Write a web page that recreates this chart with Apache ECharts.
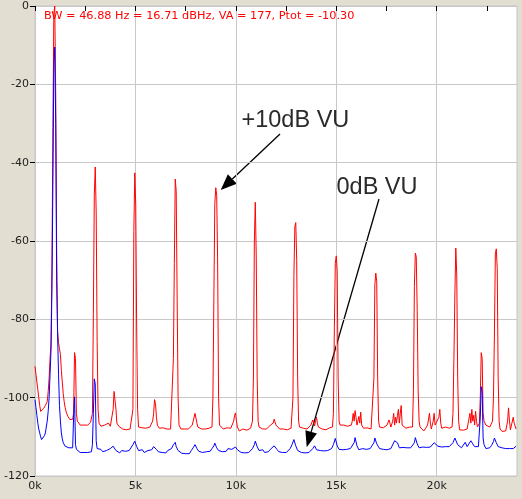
<!DOCTYPE html>
<html><head><meta charset="utf-8">
<script src="https://cdn.jsdelivr.net/npm/echarts@6/dist/echarts.min.js"></script>
<style>html,body{margin:0;padding:0;background:#e2ded2;}#c{width:522px;height:499px;}</style>
</head><body><div id="c"></div>
<script>
const xTickValues = [0,2500,5000,7500,10000,12500,15000,17500,20000,22500];
const xLabelValues = [0,5000,10000,15000,20000];
const xGridValues = [0,5000,10000,15000,20000];
const yTickValues = [-120,-100,-80,-60,-40,-20,0];
const infoText = 'BW = 46.88 Hz = 16.71 dBHz, VA = 177, Ptot = -10.30';
const label10dB = '+10dB VU';
const label0dB = '0dB VU';

// [frequency Hz, level dB]
const red = [
[0,-92],[47,-94],[94,-96],[141,-98],[188,-100],[234,-102],[281,-103.5],[328,-103.5],[375,-103],[422,-102.8],[469,-102.5],[516,-102],[562,-101.7],[609,-101],[656,-98.5],[703,-95],[750,-90],[797,-86],[844,-67],[891,-31],[938,-2],[984,0],[1031,-22.5],[1078,-62],[1125,-83],[1172,-86],[1219,-87.5],[1266,-89],[1312,-93],[1359,-96],[1406,-99],[1453,-101],[1500,-102.5],[1547,-103.5],[1594,-104.2],[1641,-104.8],[1688,-105.2],[1734,-105.6],[1781,-105.8],[1828,-106],[1875,-105.5],[1922,-104],[1969,-88.5],[2016,-90],[2062,-104],[2109,-106],
[2156,-106.5],[2250,-107],[2344,-107.3],[2438,-107],[2531,-107.5],[2625,-107],[2719,-107.3],[2766,-106.3],[2812,-106.8],[2859,-104],[2906,-78.6],[2953,-48.3],[3000,-41.1],[3047,-52.8],[3094,-85.7],[3141,-103],[3188,-106.5],
[3281,-107.3],[3375,-107.5],[3469,-107],[3562,-107.5],[3656,-106.5],[3750,-107.3],[3844,-106.8],[3891,-103],[3938,-98.4],[3984,-98.4],[4031,-103],[4078,-106.5],[4172,-107.3],[4266,-107.5],[4359,-108],[4453,-107.8],[4547,-108.2],[4641,-108.3],[4734,-108],[4828,-108.3],[4875,-103],[4922,-57.6],[4969,-42.6],[5016,-50.8],[5062,-82.2],[5109,-103],[5156,-107.5],
[5250,-108],[5344,-107.7],[5438,-107.5],[5531,-107.8],[5625,-108],[5719,-107.5],[5812,-107],[5859,-106],[5906,-104],[5953,-100.5],[6000,-101.5],[6047,-105],[6094,-107],[6188,-107.8],[6281,-108],[6375,-107.7],[6469,-108.2],[6562,-108],[6656,-108.3],[6750,-108],[6844,-107.7],[6891,-90],[6938,-65.7],[6984,-44.2],[7031,-47.3],[7078,-75],[7125,-100],[7172,-107],
[7266,-108],[7359,-107.5],[7453,-108],[7547,-107.7],[7641,-108],[7734,-107.5],[7828,-107],[7875,-106],[7922,-106],[7969,-104],[8016,-104.2],[8062,-106.5],[8109,-107.5],[8203,-107.8],[8297,-108],[8391,-107.5],[8484,-108],[8578,-108.2],[8672,-107.8],[8766,-108],[8812,-107.5],[8859,-100],[8906,-74.6],[8953,-50.6],[9000,-46.4],[9047,-48.3],[9094,-65.1],[9141,-100],[9188,-107],
[9281,-107.5],[9375,-108],[9469,-107.5],[9562,-107.7],[9656,-108],[9750,-107.8],[9844,-107.5],[9891,-106],[9938,-104.5],[9984,-103.9],[10031,-106],[10078,-107.5],[10172,-108.5],[10266,-108.7],[10359,-108],[10453,-108.5],[10547,-108.3],[10641,-108],[10734,-107.8],[10781,-107.5],[10828,-106],[10875,-95],[10922,-60.2],[10969,-50.1],[11016,-63.8],[11062,-95],[11109,-106],
[11156,-107.5],[11250,-107.8],[11344,-108],[11438,-107.7],[11531,-108],[11625,-107.5],[11719,-107],[11812,-107.3],[11859,-106.5],[11906,-105.5],[11953,-105.2],[12000,-107],[12094,-107.5],[12188,-108],[12281,-107.7],[12375,-108],[12469,-107.8],[12562,-108.2],[12656,-108],[12750,-107.8],[12797,-107.8],[12844,-100],[12891,-69.1],[12938,-56.4],[12984,-55.3],[13031,-64.8],[13078,-95],[13125,-106],
[13172,-107.5],[13266,-108],[13359,-107.8],[13453,-108.2],[13547,-108],[13641,-107.6],[13734,-107],[13781,-106.5],[13828,-105.7],[13875,-106.5],[13922,-107.2],[13969,-106],[14016,-105],[14062,-106.5],[14109,-107.5],[14203,-108],[14297,-108],[14391,-107.8],[14484,-108.2],[14578,-108],[14672,-107.7],[14766,-108],[14812,-107.5],[14859,-104],[14906,-82],[14953,-65.7],[15000,-63.8],[15047,-67.6],[15094,-95],[15141,-106],
[15188,-107],[15281,-107.3],[15375,-107],[15469,-107.5],[15562,-107.3],[15656,-107.5],[15750,-107],[15797,-106],[15844,-104],[15891,-106],[15938,-103.3],[15984,-105],[16031,-107],[16078,-106],[16125,-104.8],[16172,-106.5],[16219,-103.7],[16266,-107],[16359,-107.8],[16453,-108],[16547,-107.7],[16641,-108.2],[16734,-108],[16828,-107.5],[16875,-95],[16922,-71.2],[16969,-68.2],[17016,-70.4],[17062,-95],[17109,-106],
[17156,-107.5],[17250,-108],[17344,-107.7],[17438,-108],[17531,-107],[17625,-105.7],[17672,-106.5],[17719,-107.5],[17812,-106],[17859,-104],[17906,-107],[17953,-105],[18000,-106.5],[18047,-104.5],[18094,-103],[18141,-106.5],[18188,-104],[18234,-102],[18281,-107],[18375,-107.5],[18469,-107.8],[18562,-108],[18656,-107.5],[18750,-108],[18797,-107.5],[18844,-98],[18891,-71.6],[18938,-63.1],[18984,-64],[19031,-77.8],[19078,-98],[19125,-106],
[19172,-107.5],[19266,-108],[19359,-108.5],[19453,-107.8],[19547,-107],[19641,-104],[19688,-106.5],[19734,-108],[19828,-106],[19875,-104],[19922,-107],[20016,-107.5],[20109,-105],[20156,-103],[20203,-106.5],[20250,-107.8],[20344,-108],[20438,-107.5],[20531,-108],[20625,-107.8],[20719,-108],[20766,-107.5],[20812,-104],[20859,-90],[20906,-73.8],[20953,-61.8],[21000,-68.7],[21047,-95],[21094,-106],
[21141,-108.2],[21234,-108.5],[21328,-108.3],[21422,-108.6],[21516,-108],[21609,-107.5],[21656,-104],[21703,-106.5],[21750,-103],[21797,-106],[21844,-104.5],[21891,-107],[21938,-103.5],[21984,-106],[22031,-107.5],[22125,-106.5],[22172,-100],[22219,-88.5],[22266,-90],[22312,-104],[22359,-106],[22453,-107],[22547,-106.5],[22641,-107.5],[22734,-107],[22781,-106],[22828,-100],[22875,-84],[22922,-63.3],[22969,-62],[23016,-67],[23062,-95],[23109,-106],[23156,-108],[23250,-108.6],[23344,-109],[23438,-108.5],[23531,-106],[23578,-102.6],[23625,-106],[23672,-108.2],[23766,-108.6],[23812,-105],[23859,-106.5],[23906,-107],[23953,-108]
];

const blue = [
[0,-100.5],[47,-102.5],[94,-104.5],[141,-106.5],[188,-108],[234,-109],[281,-110],[328,-110.7],[375,-110.7],[422,-110.3],[469,-109.7],[516,-109],[562,-107.5],[609,-106],[656,-103.5],[703,-100],[750,-94],[797,-88],[844,-72],[891,-45],[938,-15],[984,-10.5],[1031,-30],[1078,-70],[1125,-84],[1172,-94],[1219,-102],[1266,-106],[1312,-109],[1359,-110.5],[1406,-111.5],[1453,-112],[1500,-112.4],[1594,-112.6],[1688,-112.8],[1781,-113],[1875,-112.8],[1922,-105],[1969,-99.8],[2016,-112],[2062,-113.2],[2156,-113.3],[2250,-114],[2344,-113.5],[2438,-114],[2531,-113.7],[2625,-114],[2719,-113.5],[2812,-113.8],[2859,-112],[2906,-104],[2953,-95.2],[3000,-96.5],[3047,-111],[3094,-113],[3188,-113.5],[3281,-113.2],[3375,-113.8],[3469,-114],[3562,-113.5],[3656,-113.8],[3750,-113],[3844,-112.5],[3891,-112.4],[3938,-112.8],[4031,-113.5],[4125,-113.8],[4219,-114.1],[4312,-113.5],[4406,-114],[4500,-113.7],[4594,-114],[4688,-113.5],[4781,-113.2],[4875,-112],[4969,-111.1],[5062,-112.5],[5156,-113.5],[5250,-113.8],[5344,-113.3],[5438,-114],[5531,-113.8],[5625,-113.5],[5719,-114],[5812,-113.3],[5906,-112.5],[5953,-112.2],[6047,-113.2],[6141,-113.8],[6234,-113.5],[6328,-114],[6422,-113.7],[6516,-114.1],[6609,-113.5],[6703,-113.8],[6797,-113],[6891,-112],[6984,-111.4],[7031,-112.5],[7125,-113.5],[7219,-114],[7312,-114.2],[7406,-113.7],[7500,-114.3],[7594,-114],[7688,-114.3],[7781,-113.5],[7875,-112.8],[7969,-112],[8062,-113],[8156,-113.7],[8250,-113.3],[8344,-114],[8438,-113.5],[8531,-113.8],[8625,-113.3],[8719,-113.7],[8812,-113],[8906,-112.3],[8953,-111.6],[9047,-112.8],[9141,-113.5],[9234,-113.2],[9328,-113.8],[9422,-113.3],[9516,-113.7],[9609,-113],[9703,-113.5],[9797,-113.2],[9891,-112.8],[9984,-112.6],[10078,-113.3],[10172,-113.8],[10266,-114],[10359,-113.5],[10453,-114.1],[10547,-113.7],[10641,-114],[10734,-113.5],[10828,-113],[10922,-112],[10969,-111.1],[11062,-112.5],[11156,-113.5],[11250,-113.8],[11344,-113.3],[11438,-114],[11531,-113.5],[11625,-113.8],[11719,-113.2],[11812,-113],[11906,-112.3],[11953,-112.2],[12047,-113.2],[12141,-113.8],[12234,-113.5],[12328,-114],[12422,-113.7],[12516,-114],[12609,-113.5],[12703,-113],[12797,-112],[12891,-110.7],[12984,-112.3],[13078,-113.5],[13172,-113.8],[13266,-114],[13359,-113.6],[13453,-114.1],[13547,-113.8],[13641,-114],[13734,-113.5],[13828,-113],[13922,-112.3],[14016,-113.3],[14109,-113.8],[14203,-113.5],[14297,-114],[14391,-113.6],[14484,-114],[14578,-113.5],[14672,-113.2],[14766,-113],[14859,-112],[14953,-110.4],[15047,-112.3],[15141,-113.2],[15234,-112.8],[15328,-113.3],[15422,-112.8],[15516,-113.2],[15609,-112.7],[15703,-113],[15797,-112.5],[15891,-111.5],[15938,-110.2],[16031,-112.3],[16125,-113.3],[16219,-113.5],[16312,-113],[16406,-113.5],[16500,-113.2],[16594,-113.4],[16688,-113],[16781,-112.5],[16875,-111.5],[16922,-110.3],[17016,-111.8],[17062,-111.4],[17156,-113],[17250,-113.5],[17344,-113.2],[17438,-113.7],[17531,-113.3],[17625,-113.5],[17719,-113],[17812,-112.5],[17906,-111],[17953,-110.6],[18047,-111.5],[18141,-112.8],[18234,-113],[18328,-112.7],[18422,-113],[18516,-112.8],[18609,-113.2],[18703,-112.8],[18797,-112.5],[18891,-111.5],[18938,-110.2],[19031,-111.8],[19125,-112.8],[19219,-113],[19312,-112.6],[19406,-113],[19500,-112.7],[19594,-113],[19688,-112.6],[19781,-112.5],[19875,-111.5],[19969,-111.4],[20062,-112.4],[20156,-112.7],[20250,-112.6],[20344,-112.8],[20438,-112.5],[20531,-112.8],[20625,-112.5],[20719,-112.3],[20812,-111.5],[20906,-110.3],[20953,-110.5],[21047,-112],[21141,-112.5],[21234,-112.8],[21328,-112.4],[21422,-111.4],[21516,-112.5],[21609,-112],[21703,-111],[21797,-111.8],[21891,-112.5],[21984,-112.3],[22078,-112.5],[22172,-105],[22219,-97.2],[22266,-98.5],[22312,-110.3],[22359,-112],[22453,-113],[22547,-113],[22641,-112.8],[22734,-112.2],[22828,-111.2],[22875,-110.3],[22969,-111.5],[23062,-112.5],[23156,-113],[23250,-112.8],[23344,-113.2],[23438,-113],[23531,-112.8],[23625,-113],[23719,-113.2],[23812,-113],[23906,-112.6],[23953,-112.4]
];

const chart = echarts.init(document.getElementById('c'), null, {renderer:'canvas'});
const labelFont = {fontFamily:'DejaVu Sans', fontSize:11, color:'#222'};

function arrow(x1,y1,x2,y2,len,hw){
  const dx=x2-x1, dy=y2-y1, L=Math.hypot(dx,dy), ux=dx/L, uy=dy/L;
  const bx=x2-ux*len, by=y2-uy*len, px=-uy, py=ux;
  return [
    {type:'line', shape:{x1:x1,y1:y1,x2:bx,y2:by}, style:{stroke:'#000', lineWidth:1.3}},
    {type:'polygon', shape:{points:[[x2,y2],[bx+px*hw,by+py*hw],[bx-px*hw,by-py*hw]]}, style:{fill:'#000'}}
  ];
}

chart.setOption({
  animation:false,
  backgroundColor:'#e2ded2',
  grid:{left:35, right:5, top:6, bottom:23, show:true, backgroundColor:'#ffffff', borderColor:'#c4c4c4', borderWidth:1},
  xAxis:[
    {type:'value', min:0, max:24000, interval:2500,
      axisLine:{show:false},
      axisTick:{show:true, length:5, lineStyle:{color:'#000'}, customValues:xTickValues},
      axisLabel:Object.assign({margin:5, customValues:xLabelValues, formatter:v=>(v/1000)+'k'}, labelFont),
      splitLine:{show:false}
    },
    {type:'value', min:0, max:24000, interval:5000, position:'bottom',
      axisLine:{show:false}, axisTick:{show:false, customValues:xGridValues}, axisLabel:{show:false},
      splitLine:{show:true, lineStyle:{color:'#c8c8c8', width:1}}
    }
  ],
  yAxis:{type:'value', min:-120, max:0, interval:20,
    axisLine:{show:false},
    axisTick:{show:true, length:5, lineStyle:{color:'#000'}, customValues:yTickValues},
    axisLabel:Object.assign({margin:6, customValues:yTickValues}, labelFont),
    splitLine:{show:true, lineStyle:{color:'#c8c8c8', width:1}}
  },
  series:[
    {type:'line', xAxisIndex:0, data:red, showSymbol:false, symbol:'none', sampling:null, lineStyle:{color:'#ff0000', width:1}, z:2},
    {type:'line', xAxisIndex:0, data:blue, showSymbol:false, symbol:'none', sampling:null, lineStyle:{color:'#0000ff', width:1}, z:3}
  ],
  graphic:[
    {type:'text', left:44, top:11, z:10, style:{text:infoText, fill:'#ff0000', font:'11.3px "DejaVu Sans"'}},
    {type:'text', x:241.5, y:109, z:10, style:{text:label10dB, fill:'#2a2a2a', font:'23.5px "Liberation Sans"', verticalAlign:'top'}},
    {type:'text', x:336.5, y:176, z:10, style:{text:label0dB, fill:'#2a2a2a', font:'23.5px "Liberation Sans"', verticalAlign:'top'}}
  ].concat(arrow(280,134,220.7,190,16,6.5), arrow(379,199,306.7,447.3,16,6))
});
</script></body></html>
